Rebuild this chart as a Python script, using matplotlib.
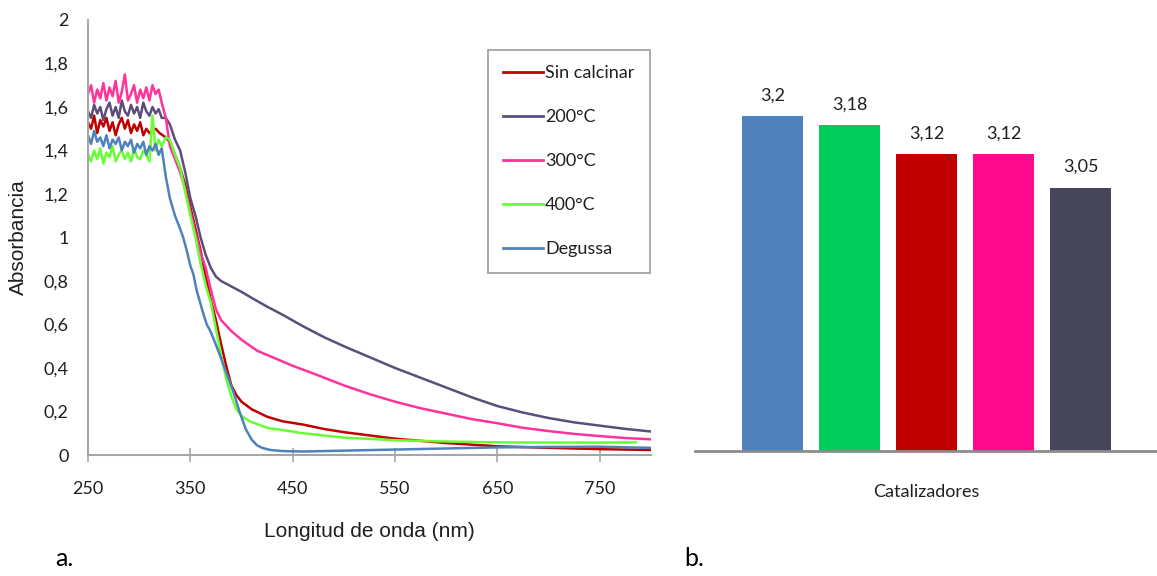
import matplotlib
matplotlib.use("Agg")
import matplotlib.pyplot as plt
from matplotlib.lines import Line2D

# ---------------- data: panel a (absorbance spectra) ----------------
plateau_wl = [250, 253, 256, 259, 262, 265, 268, 271, 274, 277, 280, 283, 286,
              289, 292, 295, 298, 301, 304, 307, 310, 313, 316, 319, 322]

sin_wl = plateau_wl[:21] + [316, 320, 326, 330, 335, 340, 345, 350, 355, 360, 365,
                            370, 375, 380, 385, 390, 395, 400, 410, 425, 440, 460,
                            480, 500, 525, 550, 575, 600, 650, 700, 750, 800]
sin_abs = [1.53, 1.50, 1.56, 1.48, 1.54, 1.51, 1.55, 1.49, 1.53, 1.47, 1.52, 1.55,
           1.50, 1.54, 1.48, 1.52, 1.49, 1.53, 1.47, 1.50, 1.48,
           1.50, 1.48, 1.46, 1.44, 1.38, 1.32, 1.24, 1.14, 1.04, 0.94, 0.82,
           0.71, 0.62, 0.51, 0.41, 0.32, 0.275, 0.245, 0.21, 0.176, 0.155, 0.14,
           0.12, 0.105, 0.09, 0.075, 0.065, 0.055, 0.040, 0.033, 0.027, 0.023]

c200_wl = plateau_wl + [326, 330, 335, 340, 345, 350, 355, 360, 365, 370, 375, 380,
                        390, 400, 410, 425, 440, 460, 480, 500, 525, 550, 575, 600,
                        625, 650, 675, 700, 725, 750, 775, 800]
c200_abs = [1.58, 1.55, 1.61, 1.57, 1.60, 1.54, 1.59, 1.62, 1.56, 1.60, 1.55, 1.63,
            1.58, 1.56, 1.61, 1.57, 1.60, 1.55, 1.62, 1.58, 1.56, 1.60, 1.57, 1.59,
            1.55,
            1.55, 1.52, 1.45, 1.40, 1.30, 1.18, 1.10, 1.00, 0.92, 0.86, 0.82, 0.80,
            0.775, 0.75, 0.722, 0.682, 0.645, 0.592, 0.543, 0.50, 0.45, 0.40, 0.355,
            0.31, 0.265, 0.225, 0.195, 0.17, 0.15, 0.135, 0.12, 0.108]

c300_wl = plateau_wl + [326, 330, 335, 340, 345, 350, 355, 360, 365, 370, 375, 380,
                        390, 400, 415, 430, 450, 470, 500, 525, 550, 575, 600, 625,
                        650, 675, 700, 725, 750, 775, 800]
c300_abs = [1.66, 1.70, 1.62, 1.68, 1.64, 1.71, 1.63, 1.69, 1.65, 1.72, 1.62, 1.67,
            1.75, 1.63, 1.66, 1.70, 1.62, 1.68, 1.64, 1.69, 1.63, 1.70, 1.66, 1.68,
            1.62,
            1.55, 1.42, 1.36, 1.30, 1.22, 1.12, 1.02, 0.93, 0.86, 0.76, 0.67, 0.62,
            0.57, 0.53, 0.48, 0.45, 0.41, 0.375, 0.32, 0.28, 0.245, 0.215, 0.19,
            0.165, 0.146, 0.125, 0.11, 0.097, 0.087, 0.078, 0.072]

c400_wl = plateau_wl[:21] + [313, 316, 319, 322, 326, 330, 335, 340, 345, 350, 355,
                             360, 365, 370, 375, 380, 385, 390, 395, 400, 408, 425,
                             440, 460, 480, 500, 550, 600, 650, 700, 750, 785]
c400_abs = [1.38, 1.35, 1.40, 1.36, 1.41, 1.34, 1.39, 1.37, 1.42, 1.35, 1.38, 1.40,
            1.36, 1.39, 1.35, 1.41, 1.37, 1.36, 1.40, 1.38, 1.35,
            1.56, 1.40, 1.45, 1.42, 1.46, 1.45, 1.38, 1.32, 1.21, 1.10, 1.00, 0.88,
            0.78, 0.70, 0.58, 0.46, 0.35, 0.27, 0.21, 0.18, 0.155, 0.125, 0.115,
            0.10, 0.09, 0.08, 0.068, 0.062, 0.058, 0.057, 0.057, 0.058]

deg_wl = plateau_wl + [326, 330, 335, 340, 343, 347, 350, 353, 356, 359, 362, 366,
                       369, 373, 378, 385, 392, 398, 404, 410, 415, 420, 428, 440,
                       460, 500, 550, 600, 650, 700, 750, 800]
deg_abs = [1.47, 1.43, 1.49, 1.44, 1.46, 1.42, 1.47, 1.41, 1.45, 1.43, 1.46, 1.40,
           1.44, 1.42, 1.45, 1.39, 1.43, 1.41, 1.44, 1.38, 1.42, 1.40, 1.43, 1.38,
           1.41,
           1.28, 1.18, 1.10, 1.04, 1.00, 0.93, 0.87, 0.83, 0.76, 0.71, 0.66, 0.60,
           0.575, 0.53, 0.47, 0.38, 0.29, 0.20, 0.12, 0.07, 0.045, 0.033, 0.023,
           0.018, 0.016, 0.020, 0.025, 0.030, 0.035, 0.037, 0.038, 0.033]

series_labels = ["Sin calcinar", "200°C", "300°C", "400°C", "Degussa"]
series_colors = ["#C00000", "#5B4E7C", "#FF3399", "#66FF33", "#4F81BD"]

x_ticks = [250, 350, 450, 550, 650, 750]
y_ticks = [0, 0.2, 0.4, 0.6, 0.8, 1.0, 1.2, 1.4, 1.6, 1.8, 2.0]
y_tick_labels = ["0", "0,2", "0,4", "0,6", "0,8", "1", "1,2", "1,4", "1,6", "1,8", "2"]

# ---------------- data: panel b (band gap bars) ----------------
bar_categories = ["Degussa", "400°C", "Sin calcinar", "300°C", "200°C"]
bar_values = [3.20, 3.18, 3.12, 3.12, 3.05]
bar_value_labels = ["3,2", "3,18", "3,12", "3,12", "3,05"]
bar_colors = ["#4F81BD", "#00CC5C", "#C00000", "#FF0A8C", "#47455A"]

# ---------------- figure ----------------
W, H = 1157, 576
fig = plt.figure(figsize=(W / 100, H / 100), dpi=100)
fig.patch.set_facecolor("white")

def fx(px):
    return px / W

def fy(py):
    return 1 - py / H

tick_font = "Lato"
label_font = "Liberation Sans"
axis_gray = "#A6A6A6"
text_col = "#1F1F1F"

# panel a
ax = fig.add_axes([fx(88), fy(455), fx(651) - fx(88), fy(20) - fy(455)])
all_wl = [sin_wl, c200_wl, c300_wl, c400_wl, deg_wl]
all_abs = [sin_abs, c200_abs, c300_abs, c400_abs, deg_abs]
for wl, ab, col in zip(all_wl, all_abs, series_colors):
    ax.plot(wl, ab, color=col, lw=1.8, solid_joinstyle="round")
ax.set_xlim(250, 800)
ax.set_ylim(0, 2)
ax.set_xticks(x_ticks)
ax.set_xticklabels([str(t) for t in x_ticks], fontfamily=tick_font, fontsize=13,
                   color=text_col)
ax.set_yticks(y_ticks)
ax.set_yticklabels(y_tick_labels, fontfamily=tick_font, fontsize=13, color=text_col)
ax.tick_params(axis="y", length=0, pad=14)
ax.tick_params(axis="x", direction="inout", length=10, width=1.2, color=axis_gray,
               pad=14)
for s in ["top", "right"]:
    ax.spines[s].set_visible(False)
for s in ["left", "bottom"]:
    ax.spines[s].set_color(axis_gray)
    ax.spines[s].set_linewidth(1.5)
ax.set_xlabel("Longitud de onda (nm)", fontfamily=label_font, fontsize=15,
              color=text_col, labelpad=18)
ax.set_ylabel("Absorbancia", fontfamily=label_font, fontsize=15, color=text_col,
              labelpad=11)

handles = [Line2D([0], [0], color=c, lw=2) for c in series_colors]
leg = ax.legend(handles, series_labels, loc="upper left",
                bbox_to_anchor=((488 - 88) / 563, (455 - 50) / 435),
                prop={"family": tick_font, "size": 13}, frameon=True,
                fancybox=False, edgecolor="#8C8C8C", handlelength=2.2,
                handletextpad=0.1, labelspacing=1.55, borderpad=0.85,
                borderaxespad=0)
leg.get_frame().set_linewidth(1.3)
for t in leg.get_texts():
    t.set_color(text_col)

# panel b
bx = fig.add_axes([fx(695), fy(451), 1 - fx(695), fy(20) - fy(451)])
xpos = list(range(len(bar_categories)))
bars = bx.bar(xpos, bar_values, width=0.79, color=bar_colors, bottom=0)
bx.set_ylim(2.5, 3.4)
bx.set_xlim(-1.01, 4.99)
for rect, lab in zip(bars, bar_value_labels):
    bx.annotate(lab, (rect.get_x() + rect.get_width() / 2, rect.get_height()),
                xytext=(0, 9), textcoords="offset points", ha="center",
                va="bottom", fontfamily=tick_font, fontsize=13, color=text_col)
bx.set_xticks([])
bx.set_yticks([])
for s in ["top", "right", "left"]:
    bx.spines[s].set_visible(False)
bx.spines["bottom"].set_color("#8C8C8C")
bx.spines["bottom"].set_linewidth(2)
bx.set_xlabel("Catalizadores", fontfamily=tick_font, fontsize=13,
              color=text_col, labelpad=24)

# panel letters
fig.text(fx(55), fy(566), "a.", fontfamily=tick_font, fontsize=18, color="black",
         ha="left", va="baseline")
fig.text(fx(684), fy(566), "b.", fontfamily=tick_font, fontsize=18, color="black",
         ha="left", va="baseline")

fig.savefig("out.png", dpi=100, facecolor="white")
